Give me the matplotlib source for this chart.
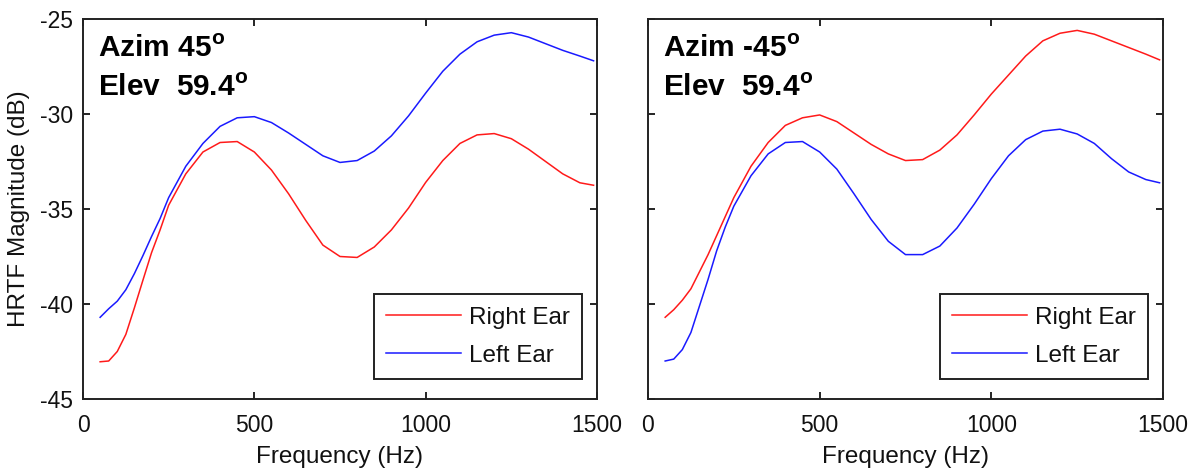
import matplotlib
matplotlib.use("Agg")
import matplotlib.pyplot as plt

plt.rcParams['font.family'] = ['Liberation Sans', 'DejaVu Sans']
plt.rcParams['mathtext.fontset'] = 'custom'
plt.rcParams['mathtext.bf'] = 'Liberation Sans:bold'
plt.rcParams['mathtext.rm'] = 'Liberation Sans'
plt.rcParams['axes.unicode_minus'] = False

freq = [50, 75, 100, 125, 150, 175, 200, 225, 250, 300, 350, 400, 450, 500, 550, 600,
        650, 700, 750, 800, 850, 900, 950, 1000, 1050, 1100, 1150, 1200, 1250, 1300,
        1350, 1400, 1450, 1490]

# Azim 45, Elev 59.4
left_right_ear = [-43.04, -43.0, -42.5, -41.6, -40.2, -38.74, -37.3, -36.1, -34.8, -33.15,
                  -32.0, -31.5, -31.45, -32.0, -32.95, -34.2, -35.6, -36.9, -37.5, -37.55,
                  -37.0, -36.1, -34.95, -33.6, -32.45, -31.55, -31.1, -31.03, -31.3, -31.85,
                  -32.5, -33.15, -33.62, -33.75]
left_left_ear = [-40.7, -40.25, -39.85, -39.25, -38.4, -37.45, -36.45, -35.5, -34.4, -32.75,
                 -31.55, -30.65, -30.2, -30.14, -30.45, -31.0, -31.6, -32.2, -32.55, -32.45,
                 -31.95, -31.15, -30.1, -28.9, -27.75, -26.85, -26.2, -25.85, -25.72, -25.95,
                 -26.3, -26.65, -26.95, -27.2]

# Azim -45, Elev 59.4
right_right_ear = [-40.7, -40.3, -39.8, -39.2, -38.3, -37.4, -36.4, -35.4, -34.4, -32.75,
                   -31.5, -30.6, -30.2, -30.05, -30.4, -31.0, -31.6, -32.1, -32.45, -32.4,
                   -31.9, -31.1, -30.05, -28.95, -27.95, -26.95, -26.15, -25.75, -25.6, -25.8,
                   -26.15, -26.5, -26.85, -27.15]
right_left_ear = [-43.0, -42.9, -42.4, -41.5, -40.1, -38.7, -37.2, -35.95, -34.85, -33.25,
                  -32.1, -31.5, -31.45, -32.0, -32.9, -34.2, -35.55, -36.7, -37.4, -37.4,
                  -36.95, -36.0, -34.75, -33.4, -32.2, -31.35, -30.9, -30.8, -31.05, -31.55,
                  -32.35, -33.05, -33.45, -33.62]

azim_labels = ['Azim 45$^{\\mathbf{o}}$', 'Azim -45$^{\\mathbf{o}}$']
elev_labels = ['Elev  59.4$^{\\mathbf{o}}$', 'Elev  59.4$^{\\mathbf{o}}$']
xticks = [0, 500, 1000, 1500]
yticks = [-45, -40, -35, -30, -25]
series_labels = ['Right Ear', 'Left Ear']

fig = plt.figure(figsize=(11.98, 4.75), dpi=100)
ax1 = fig.add_axes([83/1198, 1-399/475, 514/1198, 380/475])
ax2 = fig.add_axes([648/1198, 1-399/475, 515/1198, 380/475])

data = [(left_right_ear, left_left_ear), (right_right_ear, right_left_ear)]
txtc = '#111111'
fs_tick = 16.5
fs_lab = 17.5
for i, ax in enumerate([ax1, ax2]):
    r, l = data[i]
    ax.plot(freq, r, color='#ff1a1a', lw=1.1, label=series_labels[0])
    ax.plot(freq, l, color='#1a1aff', lw=1.1, label=series_labels[1])
    ax.set_xlim(0, 1500)
    ax.set_ylim(-45, -25)
    ax.set_xticks(xticks)
    ax.set_yticks(yticks)
    ax.tick_params(direction='in', top=True, right=True, length=5, width=1.2,
                   labelsize=fs_tick, labelcolor=txtc)
    ax.tick_params(axis='x', pad=11)
    ax.tick_params(axis='y', pad=7)
    for s in ax.spines.values():
        s.set_linewidth(1.4)
        s.set_color('#222222')
    ax.set_xlabel('Frequency (Hz)', fontsize=fs_lab, color=txtc, labelpad=6)
    ax.text(0.03, 0.90, azim_labels[i], transform=ax.transAxes, fontsize=21.5,
            fontweight='bold', va='baseline', ha='left')
    ax.text(0.03, 0.797, elev_labels[i], transform=ax.transAxes, fontsize=21.5,
            fontweight='bold', va='baseline', ha='left')
    leg = ax.legend(loc='lower right', bbox_to_anchor=(0.971, 0.0526), borderaxespad=0,
                    fancybox=False, framealpha=1, edgecolor='#222222', fontsize=fs_lab,
                    handlelength=3.1, handletextpad=0.33, labelspacing=0.67, borderpad=0.5)
    leg.get_frame().set_linewidth(1.4)
    for t in leg.get_texts():
        t.set_color(txtc)

ax1.set_ylabel('HRTF Magnitude (dB)', fontsize=fs_lab, color=txtc, labelpad=7)
ax2.set_yticklabels([])

fig.savefig('out.png', dpi=100)
